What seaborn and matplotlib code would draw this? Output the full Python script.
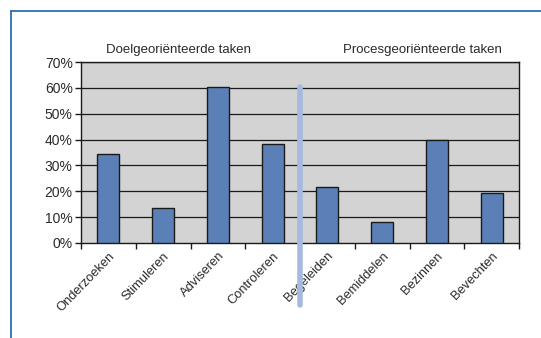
import matplotlib
matplotlib.use("Agg")
import matplotlib.pyplot as plt
import matplotlib.lines as mlines
import seaborn as sns
import pandas as pd
from matplotlib.ticker import PercentFormatter, FixedLocator

categories = ["Onderzoeken", "Stimuleren", "Adviseren", "Controleren",
              "Begeleiden", "Bemiddelen", "Bezinnen", "Bevechten"]
values = [34.3, 13.4, 60.4, 38.3, 21.8, 8.2, 39.8, 19.2]
group_labels = ["Doelgeoriënteerde taken", "Procesgeoriënteerde taken"]
y_ticks = [0, 10, 20, 30, 40, 50, 60, 70]

df = pd.DataFrame({"taak": categories, "pct": values})

sns.set_theme(style="white")
plt.rcParams["font.family"] = ["Liberation Sans Narrow", "Liberation Sans", "DejaVu Sans"]

W, H = 541, 338
fig = plt.figure(figsize=(W / 100, H / 100), dpi=100)
ax = fig.add_axes([81 / W, 1 - 243 / H, (519 - 81) / W, (243 - 62) / H])
ax.set_facecolor("#D3D3D3")

sns.barplot(data=df, x="taak", y="pct", ax=ax, color="#5B80B7",
            width=0.4, edgecolor="#1a1a1a", linewidth=1.0, saturation=1,
            zorder=3)

ax.set_ylim(0, 70)
ax.set_xlim(-0.5, len(categories) - 0.5)
ax.yaxis.set_major_locator(FixedLocator(y_ticks))
ax.yaxis.set_major_formatter(PercentFormatter(decimals=0))
for t in y_ticks[1:]:
    ax.axhline(t, color="#1a1a1a", linewidth=0.9, zorder=1)

ax.set_xticks(range(len(categories)))
ax.set_xticklabels(categories, rotation=46, ha="right", rotation_mode="anchor",
                   fontsize=9.3, color="#2a2a2a")
ax.tick_params(axis="x", length=0, pad=5)
ax.set_xticks([i + 0.5 for i in range(-1, len(categories))], minor=True)
ax.tick_params(axis="x", which="minor", length=4, width=1, color="#1a1a1a",
               direction="out", bottom=True)
ax.tick_params(axis="y", length=4, width=1, color="#1a1a1a", direction="out",
               left=True, labelsize=10, labelcolor="#2a2a2a", pad=2)

for s in ["left", "bottom", "top", "right"]:
    ax.spines[s].set_visible(True)
    ax.spines[s].set_color("#1a1a1a")
    ax.spines[s].set_linewidth(1.0)
ax.set_xlabel("")
ax.set_ylabel("")

# Separator between the two groups
ax.axvline(3.5, ymin=(243 - 305) / 181, ymax=(243 - 87) / 181,
           color="#A6BADF", linewidth=4, clip_on=False, zorder=5)

# Group headings
fig.text(178 / W, 1 - 50 / H, group_labels[0], ha="center", va="center",
         fontsize=9.5, color="#2a2a2a")
fig.text(422 / W, 1 - 50 / H, group_labels[1], ha="center", va="center",
         fontsize=9.5, color="#2a2a2a")

# Blue frame (top and left)
frame_color = "#2E6DB4"
fig.add_artist(mlines.Line2D([11 / W, 1], [1 - 11 / H, 1 - 11 / H],
                             color=frame_color, linewidth=1.3))
fig.add_artist(mlines.Line2D([11 / W, 11 / W], [0, 1 - 11 / H],
                             color=frame_color, linewidth=1.3))

fig.savefig("out.png", dpi=100)
